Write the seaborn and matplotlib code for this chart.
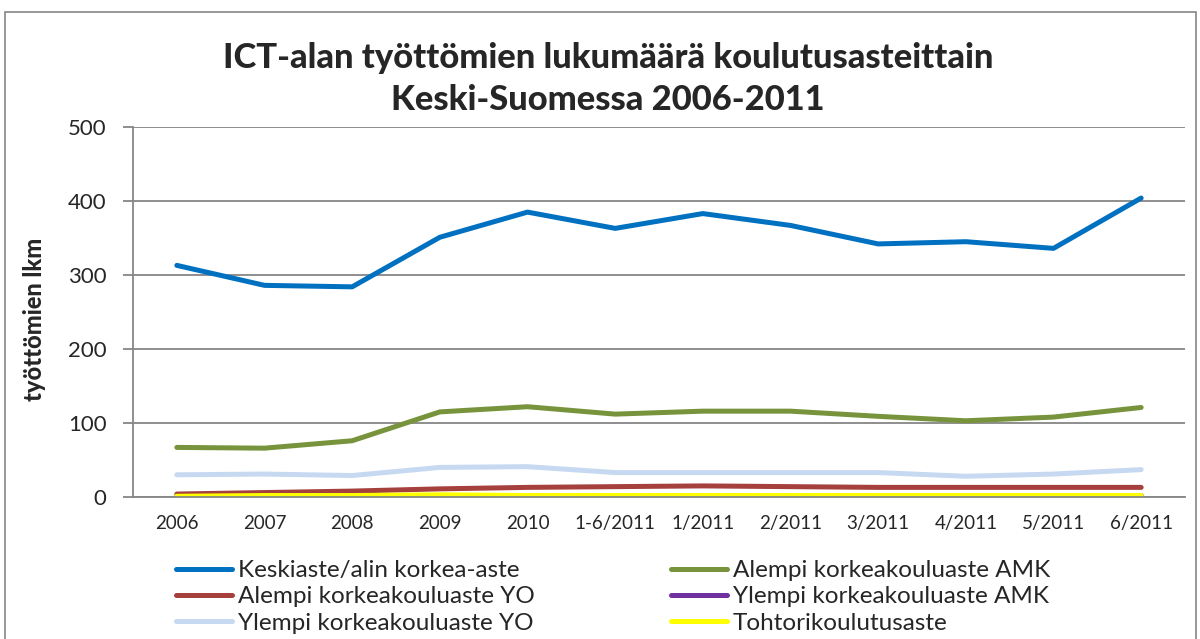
import pandas as pd
import numpy as np
import matplotlib
matplotlib.use("Agg")
import matplotlib.pyplot as plt
import seaborn as sns
from matplotlib.patches import Rectangle
from matplotlib.ticker import FixedLocator, NullFormatter

# ── DATA ──────────────────────────────────────────────────────────────────────
periods = ["2006", "2007", "2008", "2009", "2010", "1-6/2011",
           "1/2011", "2/2011", "3/2011", "4/2011", "5/2011", "6/2011"]

keskiaste   = [313, 286, 284, 351, 385, 363, 383, 367, 342, 345, 336, 404]
alempi_amk  = [67, 66, 76, 115, 122, 112, 116, 116, 109, 103, 108, 121]
alempi_yo   = [4, 6, 8, 11, 13, 14, 15, 14, 13, 13, 13, 13]
ylempi_amk  = [0, 1, 1, 2, 2, 2, 2, 2, 2, 2, 2, 2]
ylempi_yo   = [30, 31, 29, 40, 41, 33, 33, 33, 33, 28, 31, 37]
tohtori     = [1, 2, 2, 3, 2, 2, 2, 2, 2, 2, 2, 2]

series_names = ["Keskiaste/alin korkea-aste", "Alempi korkeakouluaste AMK",
                "Alempi korkeakouluaste YO", "Ylempi korkeakouluaste AMK",
                "Ylempi korkeakouluaste YO", "Tohtorikoulutusaste"]
series_vals = [keskiaste, alempi_amk, alempi_yo, ylempi_amk, ylempi_yo, tohtori]
colors = ["#0070C0", "#77933C", "#A5403D", "#7030A0", "#C6D9F1", "#FFFF00"]

# ── LONG FORMAT ───────────────────────────────────────────────────────────────
rows = []
for name, vals in zip(series_names, series_vals):
    for i, v in enumerate(vals):
        rows.append({"pos": i, "period": periods[i], "taso": name, "lkm": v})
df = pd.DataFrame(rows)

# ── PLOT ──────────────────────────────────────────────────────────────────────
sns.set_style("white")
plt.rcParams["font.family"] = ["Lato", "DejaVu Sans"]

fig = plt.figure(figsize=(12, 6.39), dpi=100)
ax = fig.add_axes([133/1200, 1 - 497/639, (1185-133)/1200, (497-127)/639])

sns.lineplot(data=df, x="pos", y="lkm", hue="taso", hue_order=series_names,
             palette=colors, linewidth=3.6, sort=False, ax=ax, legend=True,
             solid_capstyle="round")

ax.set_xlim(-0.5, len(periods) - 0.5)
ax.set_ylim(0, 500)
ax.set_yticks(range(0, 501, 100))
ax.yaxis.grid(True, color="#868686", linewidth=1.3)
ax.set_axisbelow(True)

ax.set_xticks(range(len(periods)))
ax.set_xticklabels(periods, fontsize=13.5)
ax.xaxis.set_minor_locator(FixedLocator(np.arange(-0.5, len(periods), 1.0)))
ax.xaxis.set_minor_formatter(NullFormatter())
ax.tick_params(axis="x", which="major", length=0, pad=13)
ax.tick_params(axis="x", which="minor", length=6, width=1.3, color="#868686", direction="out")
ax.tick_params(axis="y", length=7, width=1.3, color="#868686", direction="out",
               labelsize=16, pad=12, left=True)

for s in ["top", "right"]:
    ax.spines[s].set_visible(False)
for s in ["left", "bottom"]:
    ax.spines[s].set_color("#868686")
    ax.spines[s].set_linewidth(1.3)

ax.set_xlabel("")
ax.set_ylabel("työttömien lkm", fontsize=17, fontweight="black")
ax.yaxis.set_label_coords(35/1200, 0.5, transform=fig.transFigure)
ax.yaxis.label.set_verticalalignment("center")

fig.suptitle("ICT-alan työttömien lukumäärä koulutusasteittain\nKeski-Suomessa 2006-2011",
             x=608/1200, y=1 - 79/639, fontsize=24.8, fontweight="black",
             linespacing=1.4, va="center")

handles, labels = ax.get_legend_handles_labels()
order = [0, 2, 4, 1, 3, 5]
ax.legend([handles[i] for i in order], [labels[i] for i in order], ncol=2,
          loc="upper left", bbox_to_anchor=(176/1200, 1 - 560/639),
          bbox_transform=fig.transFigure, frameon=False, fontsize=17.5,
          handlelength=2.3, handletextpad=0.25, columnspacing=5.6,
          labelspacing=0.22, borderaxespad=0, borderpad=0)

fig.patches.append(Rectangle((5/1200, -0.01), 1191/1200, 1 - 12/639 + 0.01,
                             transform=fig.transFigure, fill=False,
                             edgecolor="#868686", linewidth=1.2))

plt.savefig("out.png", dpi=100)
